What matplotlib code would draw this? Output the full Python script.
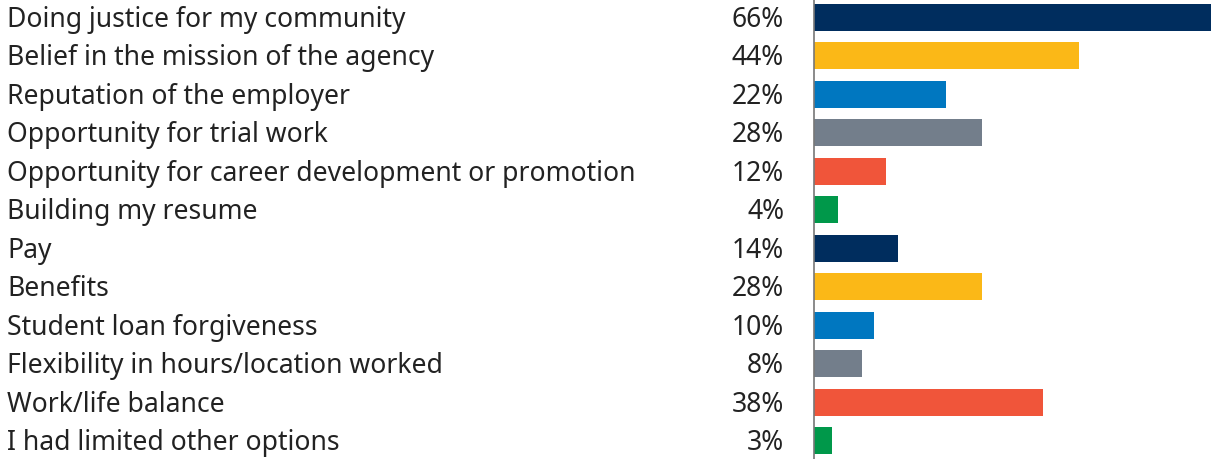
import matplotlib
matplotlib.use("Agg")
import matplotlib.pyplot as plt

plt.rcParams['font.family'] = ['Noto Sans', 'DejaVu Sans']

categories = [
    "Doing justice for my community",
    "Belief in the mission of the agency",
    "Reputation of the employer",
    "Opportunity for trial work",
    "Opportunity for career development or promotion",
    "Building my resume",
    "Pay",
    "Benefits",
    "Student loan forgiveness",
    "Flexibility in hours/location worked",
    "Work/life balance",
    "I had limited other options",
]
values = [66, 44, 22, 28, 12, 4, 14, 28, 10, 8, 38, 3]
palette = ["#002D5E", "#FBB817", "#0077C0", "#737E8B", "#F0553A", "#00984A"]
colors = [palette[i % len(palette)] for i in range(len(values))]

W, H = 1217, 460
fig = plt.figure(figsize=(W / 100, H / 100), dpi=100)
ax_left = 814
ax = fig.add_axes([ax_left / W, 0, (W - ax_left) / W, 1])

y = list(range(len(values)))
ax.barh(y, values, height=0.70, color=colors)
ax.set_xlim(0, 67.0)
ax.set_ylim(len(values) - 1 + 0.48, -0.48)

for s in ["top", "right", "bottom"]:
    ax.spines[s].set_visible(False)
ax.spines["left"].set_color("#777777")
ax.spines["left"].set_linewidth(1.2)
ax.set_xticks([])
ax.set_yticks([])

trans = ax.get_yaxis_transform()
axw = W - ax_left
text_color = "#222222"
fs = 19.1
for i, (cat, v) in enumerate(zip(categories, values)):
    ax.text((7 - ax_left) / axw, i + 0.22, cat, transform=trans, ha="left", va="baseline",
            fontsize=fs, color=text_color, clip_on=False)
    ax.text((784 - ax_left) / axw, i + 0.22, f"{v}%", transform=trans, ha="right", va="baseline",
            fontsize=fs, color=text_color, clip_on=False)

fig.savefig("out.png", dpi=100)
